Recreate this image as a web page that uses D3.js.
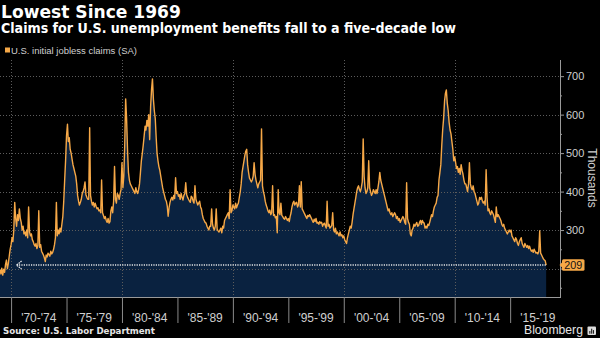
<!DOCTYPE html>
<html>
<head>
<meta charset="utf-8">
<script src="https://cdn.jsdelivr.net/npm/d3@7"></script>
<style>
  html, body { margin: 0; padding: 0; background: #000; }
  svg { display: block; }
</style>
</head>
<body>
<svg id="chart" width="600" height="338"></svg>
<script>
// U.S. initial jobless claims, seasonally adjusted, thousands (monthly readings from Jan 1969)
const startMonth = "1969-01";
const claims = [
  196, 186, 201, 183, 198, 190, 210, 222, 200, 212, 232, 250, // 1969
  262, 280, 270, 300, 372, 330, 310, 340, 325, 355, 330, 320, // 1970
  300, 310, 290, 295, 285, 300, 280, 360, 295, 285, 290, 275, // 1971
  270, 262, 258, 265, 252, 260, 350, 255, 262, 245, 240, 235, // 1972
  228, 218, 235, 230, 240, 236, 232, 245, 238, 242, 250, 262, // 1973
  280, 372, 285, 300, 290, 305, 295, 315, 335, 375, 430, 480, // 1974
  545, 575, 530, 540, 510, 500, 485, 470, 460, 450, 440, 420, // 1975
  390, 375, 365, 372, 380, 395, 400, 410, 425, 392, 385, 380, // 1976
  380, 566, 390, 375, 365, 372, 360, 370, 362, 355, 358, 350, // 1977
  352, 345, 430, 345, 338, 330, 335, 325, 320, 330, 318, 322, // 1978
  350, 360, 345, 375, 465, 380, 370, 395, 390, 380, 395, 405, // 1979
  475, 410, 440, 520, 641, 590, 510, 450, 430, 420, 415, 410, // 1980
  405, 400, 395, 410, 400, 395, 405, 420, 450, 480, 500, 520, // 1981
  545, 570, 560, 585, 570, 600, 535, 620, 665, 693, 640, 610, // 1982
  590, 540, 500, 480, 465, 455, 440, 425, 410, 400, 390, 380, // 1983
  375, 362, 336, 358, 372, 380, 385, 378, 390, 382, 436, 395, // 1984
  400, 388, 392, 380, 395, 385, 378, 390, 395, 423, 392, 385, // 1985
  380, 375, 372, 388, 385, 375, 370, 415, 380, 372, 365, 370, // 1986
  375, 360, 355, 340, 330, 325, 320, 318, 310, 305, 300, 310, // 1987
  310, 355, 315, 305, 300, 310, 355, 302, 298, 295, 300, 305, // 1988
  293, 310, 305, 325, 330, 335, 340, 345, 330, 405, 345, 350, // 1989
  365, 360, 355, 370, 358, 365, 370, 385, 400, 420, 450, 465, // 1990
  480, 495, 505, 510, 470, 450, 435, 430, 425, 430, 440, 475, // 1991
  445, 430, 420, 410, 420, 425, 430, 563, 415, 400, 390, 375, // 1992
  365, 358, 350, 345, 352, 340, 345, 415, 338, 340, 332, 335, // 1993
  293, 405, 345, 340, 370, 338, 335, 330, 328, 335, 330, 325, // 1994
  330, 322, 335, 345, 360, 370, 375, 365, 370, 372, 360, 365, // 1995
  415, 360, 426, 355, 350, 345, 340, 335, 330, 338, 335, 340, // 1996
  335, 330, 325, 320, 328, 322, 330, 318, 320, 315, 322, 318, // 1997
  320, 310, 315, 318, 312, 305, 375, 310, 315, 305, 308, 312, // 1998
  345, 300, 295, 305, 290, 295, 290, 285, 295, 285, 288, 280, // 1999
  285, 275, 270, 265, 280, 290, 300, 310, 305, 320, 340, 355, // 2000
  370, 385, 400, 410, 415, 405, 400, 410, 425, 537, 440, 410, // 2001
  395, 400, 410, 480, 410, 400, 390, 395, 405, 400, 395, 405, // 2002
  395, 410, 425, 450, 430, 420, 410, 400, 390, 380, 370, 360, // 2003
  350, 355, 345, 340, 345, 335, 340, 345, 340, 330, 335, 325, // 2004
  330, 320, 325, 330, 335, 330, 320, 315, 423, 330, 320, 315, // 2005
  290, 285, 300, 305, 315, 310, 315, 320, 310, 312, 320, 325, // 2006
  315, 325, 320, 318, 305, 310, 305, 315, 312, 320, 330, 340, // 2007
  335, 350, 360, 365, 370, 385, 390, 430, 450, 470, 520, 560, // 2008
  590, 635, 655, 664, 630, 610, 580, 560, 550, 530, 510, 480, // 2009
  490, 475, 460, 465, 450, 460, 445, 470, 455, 445, 430, 420, // 2010
  420, 410, 400, 420, 475, 420, 410, 405, 415, 400, 395, 385, // 2011
  375, 365, 370, 385, 380, 385, 375, 370, 375, 365, 457, 385, // 2012
  350, 355, 345, 340, 350, 345, 340, 330, 320, 360, 335, 340, // 2013
  335, 330, 325, 315, 310, 315, 305, 300, 295, 290, 295, 300, // 2014
  295, 300, 285, 280, 275, 270, 280, 275, 265, 260, 270, 275, // 2015
  280, 265, 260, 255, 265, 260, 255, 260, 252, 258, 250, 245, // 2016
  248, 242, 250, 245, 240, 242, 238, 245, 298, 240, 235, 230, // 2017
  225, 222, 220, 209                                          // 2018
];

const periodStarts = [1970, 1975, 1980, 1985, 1990, 1995, 2000, 2005, 2010, 2015, 2020];
const periodLabels = ["'70-'74", "'75-'79", "'80-'84", "'85-'89", "'90-'94",
                      "'95-'99", "'00-'04", "'05-'09", "'10-'14", "'15-'19"];
const gridYears = [1970, 1980, 1990, 2000, 2010];
const yTicks = [200, 300, 400, 500, 600, 700];
const yLabelTicks = [300, 400, 500, 600, 700];   // 200 sits under the latest-value tag
const yMinorTicks = [150, 250, 350, 450, 550, 650];
const latestValue = 209;

const title = "Lowest Since 1969";
const subtitle = "Claims for U.S. unemployment benefits fall to a five-decade low";
const legendLabel = "U.S. initial jobless claims (SA)";
const sourceText = "Source: U.S. Labor Department";

// ---- layout ----
const svg = d3.select("#chart");
const plotLeft = 0, plotRight = 560, plotTop = 60, plotBottom = 297;
const orange = "#f6a847";
const navy = "#0a2240";
const gridColor = "#5c5c5c";
const textColor = "#cfcfcf";

svg.append("rect").attr("width", 600).attr("height", 338).attr("fill", "#000");

const parseMonth = d3.timeParse("%Y-%m");
const t0 = parseMonth(startMonth);
const data = claims.map((v, i) => ({ date: d3.timeMonth.offset(t0, i), value: v }));
const yearDate = yr => new Date(yr, 0, 1);

const x = d3.scaleTime()
  .domain([new Date(1969, 0, 1), new Date(2019, 6, 1)])
  .range([plotLeft, plotRight]);
const y = d3.scaleLinear()
  .domain([126, 742])
  .range([plotBottom, plotTop]);

// scale a text's font size so it spans a given width
function fitWidth(sel, width) {
  const w = sel.node().getComputedTextLength();
  const fs = parseFloat(sel.attr("font-size"));
  if (w > 0) sel.attr("font-size", (fs * width / w).toFixed(2));
  return sel;
}

// ---- area under the series ----
const area = d3.area()
  .x(d => x(d.date))
  .y0(y(126))
  .y1(d => y(d.value));
svg.append("path").datum(data).attr("d", area).attr("fill", navy);

// ---- gridlines ----
const grid = svg.append("g");
grid.selectAll(".hg").data(yTicks).join("line")
  .attr("x1", plotLeft).attr("x2", plotRight)
  .attr("y1", d => Math.round(y(d)) + 0.5).attr("y2", d => Math.round(y(d)) + 0.5)
  .attr("stroke", gridColor).attr("stroke-width", 1).attr("stroke-dasharray", "1,2");
grid.selectAll(".vg").data(gridYears).join("line")
  .attr("x1", d => Math.round(x(yearDate(d))) + 0.5).attr("x2", d => Math.round(x(yearDate(d))) + 0.5)
  .attr("y1", plotTop).attr("y2", plotBottom)
  .attr("stroke", gridColor).attr("stroke-width", 1).attr("stroke-dasharray", "1,2");

// ---- series line ----
const line = d3.line()
  .x(d => x(d.date))
  .y(d => y(d.value));
svg.append("path").datum(data).attr("d", line)
  .attr("fill", "none").attr("stroke", orange).attr("stroke-width", 1.4)
  .attr("stroke-linejoin", "round");

// ---- dotted reference line back to the last comparable level ----
const lastPoint = data[data.length - 1];
const yRef = y(latestValue);
const arrowX = x(new Date(1970, 6, 1));
svg.append("line")
  .attr("x1", arrowX).attr("x2", x(lastPoint.date))
  .attr("y1", yRef).attr("y2", yRef)
  .attr("stroke", "#e8e8e8").attr("stroke-width", 1.6).attr("stroke-dasharray", "1.2,1.2");
svg.append("path")
  .attr("d", `M${arrowX + 5},${yRef - 4} L${arrowX},${yRef} L${arrowX + 5},${yRef + 4}`)
  .attr("fill", "none").attr("stroke", "#e8e8e8").attr("stroke-width", 1.3)
  .attr("stroke-dasharray", "1.5,0.8");

// ---- x axis ----
svg.append("line")
  .attr("x1", plotLeft).attr("x2", plotRight)
  .attr("y1", plotBottom + 0.5).attr("y2", plotBottom + 0.5)
  .attr("stroke", "#9a9a9a").attr("stroke-width", 1);
const xAxis = d3.axisBottom(x)
  .tickValues(periodStarts.slice(0, -1).map(yearDate))
  .tickSize(26)
  .tickFormat("");
const gx = svg.append("g").attr("transform", `translate(0,${plotBottom})`).call(xAxis);
gx.select(".domain").remove();
gx.selectAll(".tick line").attr("stroke", "#8a8a8a");

svg.append("g").selectAll("text").data(periodLabels).join("text")
  .attr("x", (d, i) => (x(yearDate(periodStarts[i])) + x(yearDate(periodStarts[i + 1]))) / 2)
  .attr("y", 321.5)
  .attr("text-anchor", "middle")
  .attr("font-family", "'Liberation Sans', Arial, sans-serif")
  .attr("font-size", 12)
  .attr("fill", textColor)
  .text(d => d);

// ---- y axis ----
svg.append("line")
  .attr("x1", plotRight + 0.5).attr("x2", plotRight + 0.5)
  .attr("y1", plotTop).attr("y2", plotBottom + 1)
  .attr("stroke", "#9a9a9a").attr("stroke-width", 1);
const yAxis = d3.axisRight(y).tickValues(yTicks).tickSize(4).tickPadding(2)
  .tickFormat(d => yLabelTicks.includes(d) ? d : "");
const gy = svg.append("g").attr("transform", `translate(${plotRight},0)`).call(yAxis);
gy.select(".domain").remove();
gy.selectAll(".tick line").attr("stroke", "#9a9a9a");
gy.selectAll(".tick text")
  .attr("fill", textColor)
  .attr("font-family", "'Liberation Sans', Arial, sans-serif")
  .attr("font-size", 11);
const yMinor = d3.axisRight(y).tickValues(yMinorTicks).tickSize(2).tickFormat("");
const gym = svg.append("g").attr("transform", `translate(${plotRight},0)`).call(yMinor);
gym.select(".domain").remove();
gym.selectAll(".tick line").attr("stroke", "#9a9a9a");

svg.append("text")
  .attr("transform", `translate(588,178) rotate(90)`)
  .attr("text-anchor", "middle")
  .attr("font-family", "'Liberation Sans', Arial, sans-serif")
  .attr("font-size", 12)
  .attr("fill", textColor)
  .text("Thousands");

// ---- latest value tag ----
const tag = svg.append("g").attr("transform", `translate(562,${yRef})`);
tag.append("path")
  .attr("d", "M-2.5,0 L0.5,-3 L0.5,3 Z")
  .attr("fill", orange);
tag.append("rect")
  .attr("x", 0).attr("y", -5.8).attr("width", 22.5).attr("height", 11.6).attr("rx", 1.5)
  .attr("fill", orange);
tag.append("text")
  .attr("x", 11.3).attr("y", 3.8)
  .attr("text-anchor", "middle")
  .attr("font-family", "'Liberation Sans', Arial, sans-serif")
  .attr("font-size", 10.8)
  .attr("fill", "#111")
  .text(latestValue);

// ---- titles ----
fitWidth(svg.append("text")
  .attr("x", 1).attr("y", 17.7)
  .attr("font-family", "'DejaVu Sans', sans-serif").attr("font-weight", "bold")
  .attr("font-size", 17).attr("fill", "#fff")
  .text(title), 180);

fitWidth(svg.append("text")
  .attr("x", 1).attr("y", 33.3)
  .attr("font-family", "'DejaVu Sans Condensed', 'Liberation Sans', sans-serif")
  .attr("font-stretch", "condensed").attr("font-weight", "bold")
  .attr("font-size", 13).attr("fill", "#fff")
  .text(subtitle), 455);

// ---- legend ----
svg.append("rect")
  .attr("x", 5).attr("y", 47.5).attr("width", 5).attr("height", 5)
  .attr("fill", orange);
fitWidth(svg.append("text")
  .attr("x", 11).attr("y", 53.5)
  .attr("font-family", "'Liberation Sans', Arial, sans-serif")
  .attr("font-size", 8.5).attr("fill", textColor)
  .text(legendLabel), 126);

// ---- footer ----
fitWidth(svg.append("text")
  .attr("x", 3).attr("y", 334)
  .attr("font-family", "'DejaVu Sans', sans-serif").attr("font-weight", "bold")
  .attr("font-size", 8.3).attr("fill", "#e6e6e6")
  .text(sourceText), 152);

fitWidth(svg.append("text")
  .attr("x", 524).attr("y", 334.3)
  .attr("font-family", "'Liberation Sans', Arial, sans-serif")
  .attr("font-size", 12).attr("fill", "#e6e6e6")
  .text("Bloomberg"), 59);

const logo = svg.append("g").attr("transform", "translate(587.5,326.5)");
logo.append("rect").attr("width", 8.5).attr("height", 8.5).attr("rx", 1).attr("fill", "#dcdcdc");
logo.selectAll(".bar").data([[1.8, 4.5], [3.6, 2.2], [5.4, 3.6]]).join("rect")
  .attr("x", d => d[0]).attr("y", d => d[1]).attr("width", 1.1).attr("height", d => 7.2 - d[1])
  .attr("fill", "#222");
</script>
</body>
</html>
